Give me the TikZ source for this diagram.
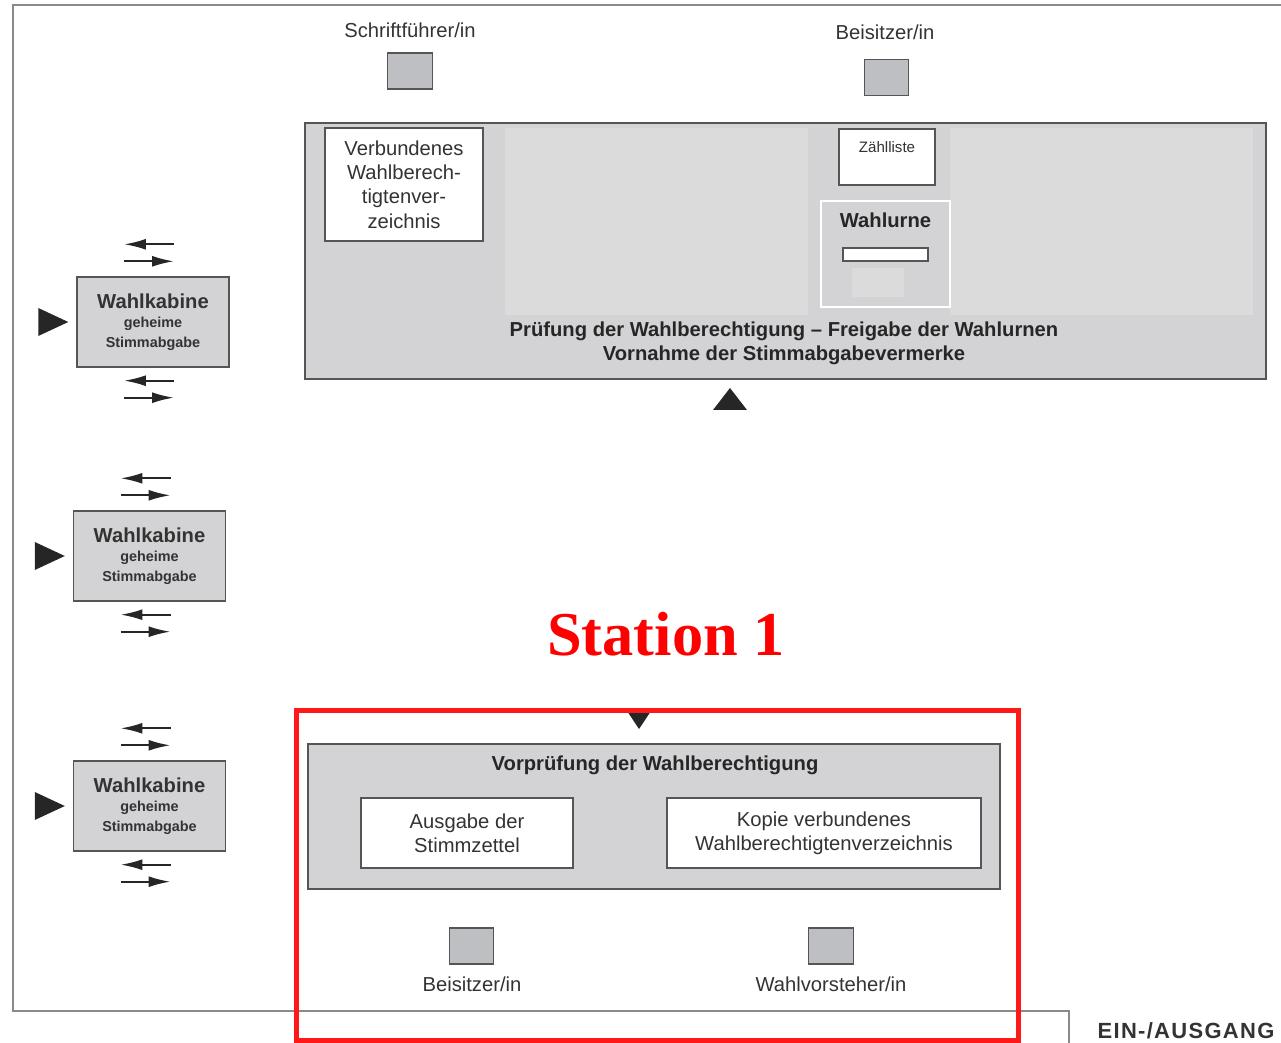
\documentclass[tikz,border=0pt]{standalone}
\usepackage{fontspec}
\setmainfont{Liberation Sans}
\newfontfamily\stationfont{Liberation Serif}
\usepackage{tikz}
\usetikzlibrary{calc}
\usetikzlibrary{arrows.meta}
\usetikzlibrary{positioning}
\definecolor{boxgray}{HTML}{D3D3D5}
\definecolor{areagray}{HTML}{DBDBDC}
\definecolor{persongray}{HTML}{BEBFC2}
\definecolor{linegray}{HTML}{555555}
\definecolor{framegray}{HTML}{8A8A8A}
\definecolor{textgray}{HTML}{333333}
\definecolor{stationred}{HTML}{FF1818}
\newcommand{\LabelFont}{\fontsize{11.5}{13.9}\selectfont}
\newcommand{\TitleFont}{\bfseries\fontsize{11.5}{13.7}\selectfont}
\newcommand{\SmallBold}{\bfseries\fontsize{8.2}{11}\selectfont}
\newcommand{\TinyFont}{\fontsize{8.6}{10}\selectfont}

\begin{document}
\begin{tikzpicture}[
x=0.02cm, y=-0.02cm,
Booth/.style={draw=linegray,fill=boxgray,line width=0.8pt,minimum width=3.04cm,minimum height=1.8cm,align=center,inner sep=0pt,text=textgray,font=\SmallBold},
Person/.style={draw=linegray,fill=persongray,line width=0.8pt,minimum width=0.89cm,minimum height=0.72cm},
WhiteBox/.style={draw=linegray,fill=white,line width=0.8pt,align=center,text=textgray,font=\LabelFont},
Area/.style={draw=linegray,fill=boxgray,line width=0.8pt},
Label/.style={text=textgray,font=\LabelFont,inner sep=0pt},
Title/.style={text=black!85,font=\TitleFont,align=center,inner sep=0pt},
Flow/.style={-{Latex[length=0.44cm,width=0.22cm]},line width=1.2pt,black!85},
Mark/.style={fill=black!85}
]
\useasboundingbox (0,0) rectangle (1281,1043);

% room outline
\draw[framegray,line width=1.1pt] (1281,5) -- (13,5) -- (13,1011) -- (1069,1011) -- (1069,1043);

% voting booths
\foreach \i/\x/\y in {1/153/322, 2/149.5/556, 3/149.5/806}{
  \node[Booth] (booth\i) at (\x,\y) {{\TitleFont Wahlkabine}\\geheime\\Stimmabgabe};
  \draw[Flow] ($(booth\i.north)+(21,-32)$) -- ++(-50,0);
  \draw[Flow] ($(booth\i.north)+(-29,-15)$) -- ++(50,0);
  \draw[Flow] ($(booth\i.south)+(21,13)$) -- ++(-50,0);
  \draw[Flow] ($(booth\i.south)+(-29,30)$) -- ++(50,0);
  \fill[Mark] ($(booth\i.west)+(-8,0)$) -- ++(-30,-14) -- ++(0,28) -- cycle;
}

% staff at the top
\node[Person] (scribe) at (410,71) {};
\node[Label] (scribelabel) at (410,30) {Schriftführer/in};
\node[Person] (assessortop) at (886.5,77.5) {};
\node[Label] (assessortoplabel) at (885,32) {Beisitzer/in};

% main table
\node[Area,minimum width=19.22cm,minimum height=5.12cm] (check) at (785.5,251) {};
\fill[areagray] (505,128) rectangle (808,315);
\fill[areagray] (950,128) rectangle (1253,315);
\node[WhiteBox,minimum width=3.16cm,minimum height=2.26cm] (register) at (404,184.5) {Verbundenes\\Wahlberech-\\tigtenver-\\zeichnis};
\node[WhiteBox,minimum width=1.92cm,minimum height=1.12cm] (tally) at (887,157) {};
\node[Label,font=\TinyFont,below=0.26cm of tally.north] (tallytext) {Zählliste};
\node[draw=white,line width=1.5pt,fill=boxgray,minimum width=2.58cm,minimum height=2.12cm] (urn) at (885.5,254) {};
\node[Title,below=0.26cm of urn.north] (urntext) {Wahlurne};
\node[draw=linegray,fill=white,line width=0.8pt,minimum width=1.7cm,minimum height=0.26cm,inner sep=0pt] (slot) at (885.5,254.5) {};
\fill[areagray] (852,268) rectangle (904,297);
\node[Title] (checktext) at (784,343) {Prüfung der Wahlberechtigung – Freigabe der Wahlurnen\\Vornahme der Stimmabgabevermerke};
\fill[Mark] (730,388) -- (747,410) -- (713,410) -- cycle;

% station 1
\node[text=red,font=\stationfont\bfseries\fontsize{35.5}{40}\selectfont] (station) at (666,634) {Station 1};
\fill[Mark] (627,711) -- (651,711) -- (639,729) -- cycle;
\node[Area,minimum width=13.84cm,minimum height=2.9cm] (precheck) at (654,816.5) {};
\node[Title] (prechecktext) at (655,765) {Vorprüfung der Wahlberechtigung};
\node[WhiteBox,minimum width=4.24cm,minimum height=1.4cm] (ballots) at (467,833) {Ausgabe der\\Stimmzettel};
\node[WhiteBox,minimum width=6.28cm,minimum height=1.4cm] (copy) at (824,833) {Kopie verbundenes\\Wahlberechtigtenverzeichnis};
\node[Person] (assessor) at (471.5,946) {};
\node[Label] (assessorlabel) at (472,984) {Beisitzer/in};
\node[Person] (chair) at (831,946) {};
\node[Label] (chairlabel) at (831,984) {Wahlvorsteher/in};
\draw[stationred,line width=0.1cm] (296,710) rectangle (1018,1040);

\node[font=\bfseries\fontsize{12.5}{14}\selectfont\addfontfeature{LetterSpace=6},text=black!80,inner sep=0pt] (exit) at (1186,1031) {EIN-/AUSGANG};
\end{tikzpicture}
\end{document}
